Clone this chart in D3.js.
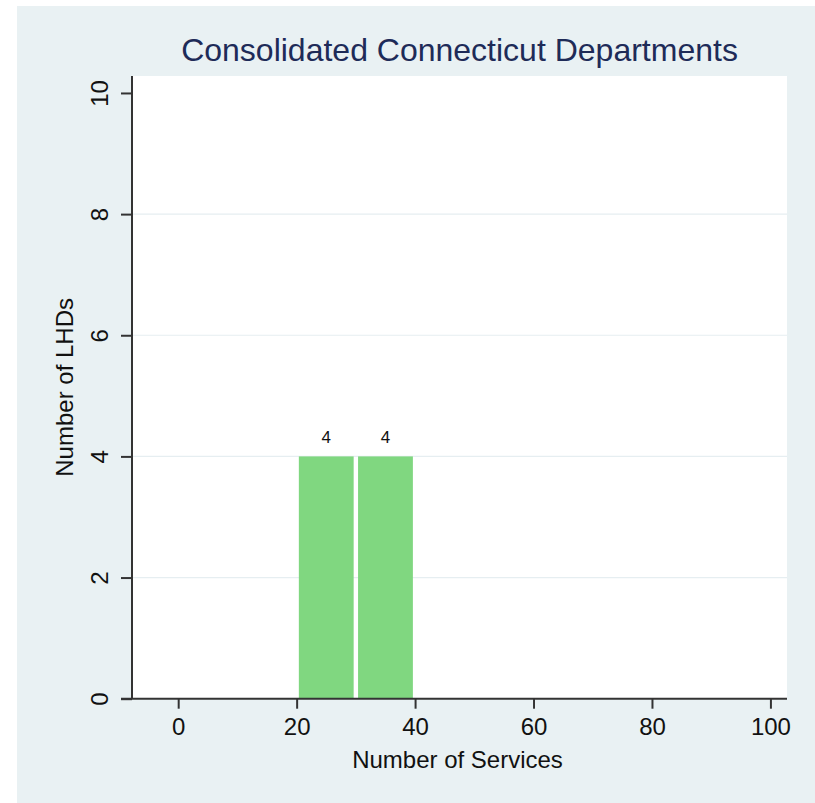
<!DOCTYPE html>
<html>
<head>
<meta charset="utf-8">
<script src="https://cdn.jsdelivr.net/npm/d3@7/dist/d3.min.js"></script>
<style>
  html, body { margin: 0; padding: 0; background: #ffffff; }
  svg { display: block; }
  text { font-family: "Liberation Sans", Arial, sans-serif; }
</style>
</head>
<body>
<svg id="chart" width="815" height="803"></svg>
<script>
// ---- Data ----
const title = "Consolidated Connecticut Departments";
const xLabel = "Number of Services";
const yLabel = "Number of LHDs";
const binStarts = [20, 30];
const binEnds = [30, 40];
const counts = [4, 4];
const xTicks = [0, 20, 40, 60, 80, 100];
const yTicks = [0, 2, 4, 6, 8, 10];
const gridValues = [2, 4, 6, 8];

(function () {
const bins = binStarts.map((s, i) => ({ x0: s, x1: binEnds[i], n: counts[i] }));

const svg = d3.select("#chart");
const W = 815, H = 803;

// outer background
svg.append("rect").attr("x", 17).attr("y", 6).attr("width", W - 17).attr("height", H - 6)
  .attr("fill", "#e9f1f3");

const pL = 132, pR = 787, pT = 76, pB = 698.7;

const x = d3.scaleLinear().domain([-7.8, 102.8]).range([pL, pR]);
const y = d3.scaleLinear().domain([0, 10.28]).range([pB, pT]);

// plot area
svg.append("rect").attr("x", pL).attr("y", pT).attr("width", pR - pL).attr("height", pB - pT)
  .attr("fill", "#ffffff");

// grid lines
svg.append("g").selectAll("line").data(gridValues).join("line")
  .attr("x1", pL).attr("x2", pR)
  .attr("y1", d => y(d)).attr("y2", d => y(d))
  .attr("stroke", "#e6eef1").attr("stroke-width", 1.2);

// bars
const inset = 2.2;
svg.append("g").selectAll("rect").data(bins).join("rect")
  .attr("x", d => x(d.x0) + inset)
  .attr("width", d => x(d.x1) - x(d.x0) - 2 * inset)
  .attr("y", d => y(d.n))
  .attr("height", d => y(0) - y(d.n))
  .attr("fill", "#80d780");

// bar labels
svg.append("g").selectAll("text").data(bins).join("text")
  .attr("x", d => (x(d.x0) + x(d.x1)) / 2)
  .attr("y", d => y(d.n) - 13)
  .attr("text-anchor", "middle")
  .attr("font-size", 17)
  .attr("fill", "#111")
  .text(d => d.n);

// x axis
const xAxis = d3.axisBottom(x).tickValues(xTicks).tickSize(10).tickPadding(9).tickSizeOuter(0);
const gx = svg.append("g").attr("transform", `translate(0,${pB})`).call(xAxis);
gx.select(".domain").attr("stroke", "#333").attr("stroke-width", 2)
  .attr("d", `M${pL - 11},0H${pR}`);
gx.selectAll(".tick line").attr("stroke", "#333").attr("stroke-width", 2);
gx.selectAll(".tick text").attr("font-size", 24).attr("fill", "#111")
  .attr("font-family", "Liberation Sans, Arial, sans-serif");

// y axis
const yAxis = d3.axisLeft(y).tickValues(yTicks).tickSize(11).tickPadding(0).tickSizeOuter(0);
const gy = svg.append("g").attr("transform", `translate(${pL},0)`).call(yAxis);
gy.select(".domain").attr("stroke", "#333").attr("stroke-width", 2)
  .attr("d", `M0,${pT}V${pB}`);
gy.selectAll(".tick line").attr("stroke", "#333").attr("stroke-width", 2);
gy.selectAll(".tick text")
  .attr("font-size", 24).attr("fill", "#111")
  .attr("font-family", "Liberation Sans, Arial, sans-serif")
  .attr("x", null).attr("dy", null)
  .attr("text-anchor", "middle")
  .attr("transform", "translate(-24.5,0) rotate(-90)");

// title
svg.append("text").attr("x", (pL + pR) / 2).attr("y", 61)
  .attr("text-anchor", "middle").attr("font-size", 32).attr("fill", "#1e2b58")
  .text(title);

// axis titles
svg.append("text").attr("x", (pL + pR) / 2 - 2).attr("y", 768)
  .attr("text-anchor", "middle").attr("font-size", 24).attr("fill", "#111")
  .text(xLabel);

svg.append("text")
  .attr("transform", `translate(73,${(pT + pB) / 2}) rotate(-90)`)
  .attr("text-anchor", "middle").attr("font-size", 24).attr("fill", "#111")
  .text(yLabel);
})();
</script>
</body>
</html>
